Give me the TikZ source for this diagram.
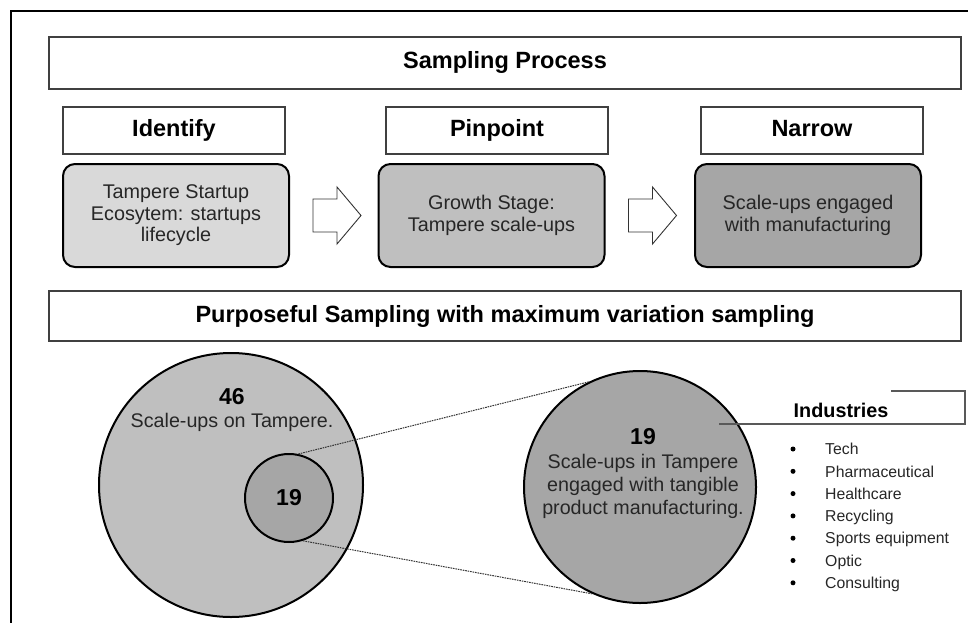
\documentclass[tikz,border=0pt]{standalone}
\usepackage{fontspec}
\setmainfont{Liberation Sans}
\definecolor{fillA}{HTML}{D9D9D9}
\definecolor{fillB}{HTML}{BFBFBF}
\definecolor{fillC}{HTML}{A6A6A6}
\definecolor{inkgray}{HTML}{262626}
\tikzset{
  headbox/.style={draw=black!75, line width=1.3pt, fill=white, inner sep=0pt,
    text height=17pt, text depth=5pt,
    font=\fontsize{23.5}{26}\selectfont\bfseries},
  stagebox/.style={draw=black, line width=2pt, rounded corners=12pt, inner sep=0pt,
    minimum width=226pt, minimum height=103pt, align=center, text=inkgray,
    font=\fontsize{19.8}{21.5}\selectfont},
  blockarrow/.style={draw=black!80, line width=0.9pt, fill=white, line join=miter},
  disc/.style={circle, draw=black, line width=2pt, inner sep=0pt},
  bignum/.style={font=\fontsize{23}{25}\selectfont\bfseries, text=black},
  bodytext/.style={font=\fontsize{19.7}{23}\selectfont, text=inkgray, align=center, inner sep=0pt},
  zoomline/.style={draw=black!80, line width=1pt, dash pattern=on 1.6pt off 0.9pt},
  calloutline/.style={draw=black!65, line width=1.3pt},
  bulletmark/.style={fill=black, circle, inner sep=0pt, minimum size=5pt},
  itemtext/.style={font=\fontsize{15.8}{18}\selectfont, text=inkgray, inner sep=0pt, anchor=base west}
}
\begin{document}
\begin{tikzpicture}[x=1pt, y=-1pt]
\useasboundingbox (0,0) rectangle (968,623);
\clip (0,0) rectangle (968,623);

% outer frame (runs off the page to the right and bottom)
\draw[line width=2.3pt, black] (11,660) |- (1010,11);

% title bar
\node[headbox, minimum width=912pt, minimum height=52pt] (title) at (505,63) {Sampling Process};

% stage headings
\node[headbox, minimum width=222pt, minimum height=47pt] (hIdentify) at (174,130.5) {Identify};
\node[headbox, minimum width=222pt, minimum height=47pt] (hPinpoint) at (497,130.5) {Pinpoint};
\node[headbox, minimum width=222pt, minimum height=47pt] (hNarrow) at (812,130.5) {Narrow};

% stage boxes
\node[stagebox, fill=fillA] (s1) at (176,215.5) {Tampere Startup\\Ecosytem: startups\\lifecycle};
\node[stagebox, fill=fillB] (s2) at (491.5,215.5) {Growth Stage:\\Tampere scale-ups};
\node[stagebox, fill=fillC] (s3) at (808,215.5) {Scale-ups engaged\\with manufacturing};

% block arrows between stages
\coordinate (a1) at ([xshift=23pt]s1.east);
\coordinate (a2) at ([xshift=23pt]s2.east);
\foreach \a in {a1,a2}{
  \draw[blockarrow] (\a) ++(0,-16.5) -- ++(24,0) -- ++(0,-12) -- ++(24,28.5)
    -- ++(-24,28.5) -- ++(0,-12) -- ++(-24,0) -- cycle;
}

% second title bar
\node[headbox, minimum width=912pt, minimum height=50pt] (purpose) at (505,316)
  {Purposeful Sampling with maximum variation sampling};

% population circles
\node[disc, fill=fillB, minimum size=264pt] (pop) at (231,485) {};
\node[bignum] (n46) at (232,397) {46};
\node[bodytext] (popText) at (232,422) {Scale-ups on Tampere.};
\node[disc, fill=fillC, minimum size=88pt, bignum] (sub) at (289,498) {19};

% enlarged subset
\node[disc, fill=fillC, minimum size=232pt] (zoom) at (640,487) {};
\node[bignum] (n19) at (643,437) {19};
\node[bodytext] (zoomText) at (643,486)
  {Scale-ups in Tampere\\engaged with tangible\\product manufacturing.};

\draw[zoomline] (sub.78) -- (zoom.116);
\draw[zoomline] (sub.-72) -- (zoom.-114);

% industries callout
\coordinate (calloutStart) at (719,424);
\draw[calloutline] (calloutStart) -- (965,424) -- (965,391) -- (891,391);
\node[font=\fontsize{19.8}{22}\selectfont\bfseries, text=black] (industries) at (841,410) {Industries};

\foreach \t [count=\i] in {Tech,Pharmaceutical,Healthcare,Recycling,Sports equipment,Optic,Consulting}{
  \node[bulletmark] (b\i) at (793,{449+22.3*(\i-1)}) {};
  \node[itemtext] (t\i) at (825,{449+22.3*(\i-1)+5.7}) {\t};
}
\end{tikzpicture}
\end{document}
